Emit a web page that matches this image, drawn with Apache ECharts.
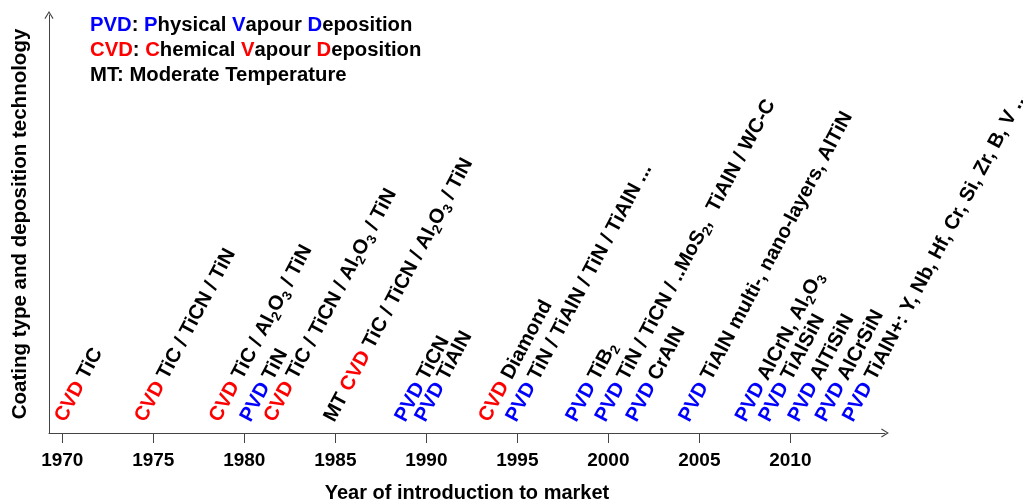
<!DOCTYPE html>
<html>
<head>
<meta charset="utf-8">
<script src="https://cdn.jsdelivr.net/npm/echarts@6/dist/echarts.min.js"></script>
<style>
  html, body { margin: 0; padding: 0; background: #fff; }
  #main { width: 1023px; height: 501px; }
</style>
</head>
<body>
<div id="main"></div>
<script>
// year where each label starts on the time axis
var years = [1969.9, 1974.3, 1978.4, 1980.1, 1981.4, 1984.7, 1988.6, 1989.7, 1993.2, 1994.7,
             1998.0, 1999.6, 2001.3, 2004.2, 2007.3, 2008.6, 2010.2, 2011.7, 2013.2];
// deposition technology (CVD red / PVD blue), optional prefix
var prefixes = ['', '', '', '', '', 'MT', '', '', '', '', '', '', '', '', '', '', '', '', ''];
var methods = ['CVD', 'CVD', 'CVD', 'PVD', 'CVD', 'CVD', 'PVD', 'PVD', 'CVD', 'PVD',
               'PVD', 'PVD', 'PVD', 'PVD', 'PVD', 'PVD', 'PVD', 'PVD', 'PVD'];
// coating names, "_n" = subscript
var coatings = [
  'TiC',
  'TiC / TiCN / TiN',
  'TiC / Al_2O_3 / TiN',
  'TiN',
  'TiC / TiCN / Al_2O_3 / TiN',
  'TiC / TiCN / Al_2O_3 / TiN',
  'TiCN',
  'TiAlN',
  'Diamond',
  'TiN / TiAlN / TiN / TiAlN ...',
  'TiB_2',
  'TiN / TiCN / ..MoS_2,  TiAlN / WC-C',
  'CrAlN',
  'TiAlN multi-, nano-layers, AlTiN',
  'AlCrN, Al_2O_3',
  'TiAlSiN',
  'AlTiSiN',
  'AlCrSiN',
  'TiAlN+: Y, Nb, Hf, Cr, Si, Zr, B, V ...'
];
var xTicks = [1970, 1975, 1980, 1985, 1990, 1995, 2000, 2005, 2010];

var FONT = 'Liberation Sans, Arial, sans-serif';
var AXIS_COLOR = '#444';
var arrowPath = 'path://M5,0 L10,8 L9,8.7 L5,2.2 L1,8.7 L0,8 Z';

function richCoating(txt) {
  // split "Al_2O_3" into normal text and subscript pieces
  var parts = txt.split(/_(\d)/);
  var out = '';
  for (var i = 0; i < parts.length; i++) {
    if (parts[i] === '') continue;
    out += (i % 2 === 1 ? '{s|' : '{k|') + parts[i] + '}';
  }
  return out;
}

var labels = [];
for (var i = 0; i < years.length; i++) {
  var s = '';
  if (prefixes[i]) s += '{k|' + prefixes[i] + ' }';
  s += (methods[i] === 'CVD' ? '{r|CVD}' : '{b|PVD}');
  s += '{k| }' + richCoating(coatings[i]);
  labels.push(s);
}

var points = years.map(function (y) { return [y, 0.0287]; });

var myChart = echarts.init(document.getElementById('main'));
var base = { fontFamily: FONT, fontWeight: 'bold', fontSize: 20.2, lineHeight: 26 };
var option = {
  animation: false,
  title: {
    left: 90,
    top: 13,
    padding: 0,
    text: '{b|PVD}{k|: }{b|P}{k|hysical }{b|V}{k|apour }{b|D}{k|eposition}\n' +
          '{r|CVD}{k|: }{r|C}{k|hemical }{r|V}{k|apour }{r|D}{k|eposition}\n' +
          '{k|MT: Moderate Temperature}',
    textStyle: {
      fontFamily: FONT, fontWeight: 'bold', fontSize: 20.3, lineHeight: 25,
      rich: {
        k: { color: '#000', fontFamily: FONT, fontWeight: 'bold', fontSize: 20.3, lineHeight: 25 },
        b: { color: '#0000ff', fontFamily: FONT, fontWeight: 'bold', fontSize: 20.3, lineHeight: 25 },
        r: { color: '#ff0000', fontFamily: FONT, fontWeight: 'bold', fontSize: 20.3, lineHeight: 25 }
      }
    }
  },
  grid: { left: 49, right: 138, top: 15, bottom: 68, outerBoundsMode: 'none' },
  xAxis: {
    type: 'value',
    min: 1969.27,
    max: 2015.2,
    name: 'Year of introduction to market',
    nameLocation: 'middle',
    nameGap: 50,
    nameTextStyle: { color: '#000', fontFamily: FONT, fontWeight: 'bold', fontSize: 20 },
    axisLine: {
      lineStyle: { color: AXIS_COLOR, width: 1 },
      symbol: ['none', arrowPath],
      symbolSize: [9, 8]
    },
    axisTick: { customValues: xTicks, length: 10, lineStyle: { color: AXIS_COLOR } },
    axisLabel: {
      customValues: xTicks,
      margin: 18,
      color: '#000',
      fontFamily: FONT,
      fontWeight: 'bold',
      fontSize: 19,
      formatter: function (v) { return String(v); }
    },
    splitLine: { show: false }
  },
  yAxis: {
    type: 'value',
    min: 0,
    max: 1,
    name: 'Coating type and deposition technology',
    nameLocation: 'middle',
    nameGap: 18,
    nameTextStyle: { color: '#000', fontFamily: FONT, fontWeight: 'bold', fontSize: 20.5 },
    axisLine: {
      show: true,
      lineStyle: { color: AXIS_COLOR, width: 1 },
      symbol: ['none', arrowPath],
      symbolSize: [9, 8]
    },
    axisTick: { show: false },
    axisLabel: { show: false },
    splitLine: { show: false }
  },
  series: [
    {
      type: 'scatter',
      data: points,
      symbolSize: 1,
      itemStyle: { color: 'rgba(0,0,0,0)', opacity: 1 },
      label: {
        show: true,
        position: [0, 0],
        rotate: 62,
        align: 'left',
        verticalAlign: 'middle',
        formatter: function (p) { return labels[p.dataIndex]; },
        rich: {
          k: Object.assign({ color: '#000' }, base),
          r: Object.assign({ color: '#ff0000' }, base),
          b: Object.assign({ color: '#0000ff' }, base),
          s: { color: '#000', fontFamily: FONT, fontWeight: 'bold', fontSize: 13.5, lineHeight: 14, verticalAlign: 'bottom' }
        }
      }
    }
  ]
};
myChart.setOption(option);
window.addEventListener('resize', function () {
  myChart.resize();
});
</script>
</body>
</html>
